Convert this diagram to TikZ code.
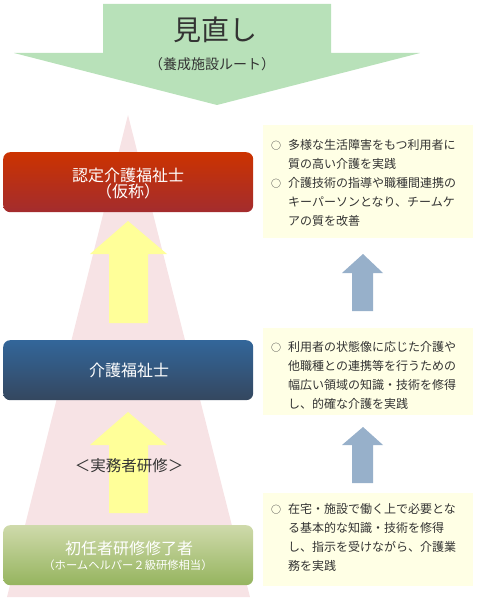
\documentclass[tikz,border=0pt]{standalone}
\usepackage{fontspec}
\setmainfont{Noto Sans CJK JP}
\definecolor{txtgray}{HTML}{333333}
\definecolor{boxyellow}{HTML}{FFFFE5}
\definecolor{arrowblue}{HTML}{97B0CA}
\definecolor{arrowyellow}{HTML}{FFFF99}
\definecolor{pinkbg}{HTML}{F7E3E5}
\definecolor{titlegreen}{HTML}{B8E1B9}
\definecolor{redtop}{HTML}{CC3300}
\definecolor{redbot}{HTML}{A32C2E}
\definecolor{bluetop}{HTML}{33669A}
\definecolor{bluebot}{HTML}{34475F}
\definecolor{greentop}{HTML}{CFDAAB}
\definecolor{greenbot}{HTML}{95B45E}
\begin{document}
\begin{tikzpicture}[x=1pt,y=-1pt,
  levelbox/.style={rounded corners=7pt, minimum width=250pt, minimum height=60pt, inner sep=0pt, anchor=north west},
  whitetxt/.style={text=white, inner sep=0pt, anchor=base},
  notebox/.style={fill=boxyellow, draw=none},
  noteline/.style={text=txtgray, inner sep=0pt, anchor=base west, font=\fontsize{12}{12}\selectfont},
  bulletmark/.style={text=txtgray, inner sep=0pt, anchor=base west, font=\fontsize{10}{10}\selectfont}]
\useasboundingbox (0,0) rectangle (480,604);
% pink background cone
\fill[pinkbg] (128,115) -- (250,597) -- (7,597) -- cycle;
% title arrow
\fill[titlegreen] (103,4) -- (331,4) -- (331,53) -- (420,53) -- (217,105) -- (14,53) -- (103,53) -- cycle;
\node[text=txtgray, inner sep=0pt, anchor=base, font=\fontsize{28}{28}\selectfont] (title) at (215,41) {見直し};
\node[text=txtgray, inner sep=0pt, anchor=base, font=\fontsize{14}{14}\selectfont] (subtitle) at (212,70) {（養成施設ルート）};
% yellow arrows
\fill[arrowyellow] (128,221) -- (167,254) -- (148,254) -- (148,323) -- (109,323) -- (109,254) -- (90,254) -- cycle;
\fill[arrowyellow] (128,412) -- (167,445) -- (148,445) -- (148,513) -- (109,513) -- (109,445) -- (90,445) -- cycle;
% level boxes
\node[levelbox, top color=redtop, bottom color=redbot] (red) at (3,152) {};
\node[levelbox, top color=bluetop, bottom color=bluebot] (blue) at (3,340) {};
\node[levelbox, top color=greentop, bottom color=greenbot] (green) at (3,525) {};
\node[whitetxt, font=\fontsize{16}{16}\selectfont] (redA) at (128,181) {認定介護福祉士};
\node[whitetxt, font=\fontsize{16}{16}\selectfont] (redB) at (128,197) {（仮称）};
\node[whitetxt, font=\fontsize{16}{16}\selectfont] (blueA) at (129,376) {介護福祉士};
\node[whitetxt, font=\fontsize{16}{16}\selectfont] (greenA) at (129,554) {初任者研修修了者};
\node[whitetxt, font=\fontsize{11.3}{11.3}\selectfont] (greenB) at (128,569.3) {（ホームヘルパー２級研修相当）};
\node[text=txtgray, inner sep=0pt, anchor=base, font=\fontsize{15.5}{15.5}\selectfont] (jitsumu) at (129,471) {＜実務者研修＞};
% note boxes
\fill[notebox] (263,125) rectangle (473,238);
\fill[notebox] (263,328) rectangle (473,415);
\fill[notebox] (263,493) rectangle (473,586);
% blue arrows
\fill[arrowblue] (363,254) -- (383,273) -- (373,273) -- (373,311) -- (352,311) -- (352,273) -- (342,273) -- cycle;
\fill[arrowblue] (363,427) -- (383,445) -- (373,445) -- (373,483) -- (352,483) -- (352,445) -- (342,445) -- cycle;
% note text box 1
\node[bulletmark] (b1a) at (271,149.5) {○};
\node[noteline] (n1a) at (288,149.5) {多様な生活障害をもつ利用者に};
\node[noteline] (n1b) at (288,168.5) {質の高い介護を実践};
\node[bulletmark] (b1b) at (271,187.5) {○};
\node[noteline] (n1c) at (288,187.5) {介護技術の指導や職種間連携の};
\node[noteline] (n1d) at (288,206.5) {キーパーソンとなり、チームケ};
\node[noteline] (n1e) at (288,225.5) {アの質を改善};
% note text box 2
\node[bulletmark] (b2a) at (271,351.5) {○};
\node[noteline] (n2a) at (288,351.5) {利用者の状態像に応じた介護や};
\node[noteline] (n2b) at (288,370.5) {他職種との連携等を行うための};
\node[noteline] (n2c) at (288,389.5) {幅広い領域の知識・技術を修得};
\node[noteline] (n2d) at (288,408.5) {し、的確な介護を実践};
% note text box 3
\node[bulletmark] (b3a) at (271,513.5) {○};
\node[noteline] (n3a) at (288,513.5) {在宅・施設で働く上で必要とな};
\node[noteline] (n3b) at (288,532.5) {る基本的な知識・技術を修得};
\node[noteline] (n3c) at (288,551.5) {し、指示を受けながら、介護業};
\node[noteline] (n3d) at (288,570.5) {務を実践};
\end{tikzpicture}
\end{document}
